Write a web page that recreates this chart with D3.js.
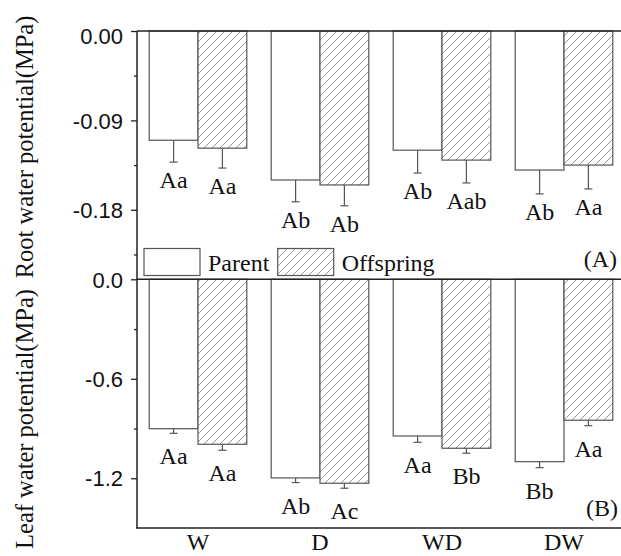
<!DOCTYPE html>
<html><head><meta charset="utf-8">
<script src="https://cdn.jsdelivr.net/npm/d3@7"></script>
<style>body{margin:0;background:#fff}svg{display:block}</style>
</head><body>
<script>
const categories = ["W", "D", "WD", "DW"];
const series = ["Parent", "Offspring"];
// Root water potential (MPa)
const rootParent = [-0.110, -0.150, -0.120, -0.140];
const rootOffspring = [-0.118, -0.155, -0.130, -0.135];
const rootParentErr = [0.022, 0.022, 0.023, 0.024];
const rootOffspringErr = [0.020, 0.021, 0.023, 0.024];
const rootParentLabels = ["Aa", "Ab", "Ab", "Ab"];
const rootOffspringLabels = ["Aa", "Ab", "Aab", "Aa"];
// Leaf water potential (MPa)
const leafParent = [-0.901, -1.198, -0.945, -1.100];
const leafOffspring = [-0.995, -1.230, -1.019, -0.850];
const leafParentErr = [0.028, 0.028, 0.038, 0.036];
const leafOffspringErr = [0.036, 0.030, 0.030, 0.033];
const leafParentLabels = ["Aa", "Ab", "Aa", "Bb"];
const leafOffspringLabels = ["Aa", "Ac", "Bb", "Aa"];
// Axis ticks
const rootTicks = [0, -0.09, -0.18];
const rootTickLabels = ["0.00", "-0.09", "-0.18"];
const rootMinor = [-0.045, -0.135, -0.225];
const rootDomain = [-0.25, 0];
const leafTicks = [0, -0.6, -1.2];
const leafTickLabels = ["0.0", "-0.6", "-1.2"];
const leafMinor = [-0.3, -0.9];
const leafDomain = [-1.5, 0];

const W = 621, H = 556;
const left = 137, right = 625, top1 = 31, mid = 279.3, bot = 528;
const serif = "'Liberation Serif','Times New Roman',serif";
const sans = "'Liberation Sans',Arial,sans-serif";
const lineCol = "#222";

const svg = d3.select("body").append("svg").attr("width", W).attr("height", H);
svg.append("rect").attr("width", W).attr("height", H).attr("fill", "#fff");

const defs = svg.append("defs");
const pat = defs.append("pattern").attr("id", "hatch").attr("patternUnits", "userSpaceOnUse")
  .attr("width", 8).attr("height", 8);
pat.append("rect").attr("width", 8).attr("height", 8).attr("fill", "#fff");
pat.append("path").attr("d", "M-2,2 L2,-2 M0,8 L8,0 M6,10 L10,6")
  .attr("stroke", "#999").attr("stroke-width", 1);

const x0 = d3.scaleBand().domain(categories).range([left, right]).paddingInner(0.2).paddingOuter(0.1);
const x1 = d3.scaleBand().domain(series).range([0, x0.bandwidth()]);

function panel(yTop, yBot, domain, ticks, tickLabels, minor, parentV, offV, parentE, offE, parentL, offL, labelOff, firstShift) {
  const y = d3.scaleLinear().domain(domain).range([yBot, yTop]);
  const g = svg.append("g");
  const data = [];
  categories.forEach((c, i) => {
    data.push({c, s: "Parent", v: parentV[i], e: parentE[i], l: parentL[i]});
    data.push({c, s: "Offspring", v: offV[i], e: offE[i], l: offL[i]});
  });
  g.selectAll("rect.bar").data(data).join("rect").attr("class", "bar")
    .attr("x", d => x0(d.c) + x1(d.s))
    .attr("y", y(0))
    .attr("width", x1.bandwidth())
    .attr("height", d => y(d.v) - y(0))
    .attr("fill", d => d.s === "Parent" ? "#fff" : "url(#hatch)")
    .attr("stroke", "#555").attr("stroke-width", 1.2);
  const cx = d => x0(d.c) + x1(d.s) + x1.bandwidth() / 2;
  g.selectAll("line.err").data(data).join("line").attr("class", "err")
    .attr("x1", cx).attr("x2", cx)
    .attr("y1", d => y(d.v)).attr("y2", d => y(d.v - d.e))
    .attr("stroke", "#555").attr("stroke-width", 1.2);
  g.selectAll("line.cap").data(data).join("line").attr("class", "cap")
    .attr("x1", d => cx(d) - 4).attr("x2", d => cx(d) + 4)
    .attr("y1", d => y(d.v - d.e)).attr("y2", d => y(d.v - d.e))
    .attr("stroke", "#555").attr("stroke-width", 1.2);
  g.selectAll("text.sig").data(data).join("text").attr("class", "sig")
    .attr("x", cx).attr("y", d => y(d.v - d.e) + labelOff)
    .attr("text-anchor", "middle").attr("font-family", serif).attr("font-size", 24)
    .attr("fill", "#111").text(d => d.l);
  const ax = d3.axisLeft(y).tickValues(ticks).tickSize(6).tickSizeOuter(0).tickPadding(8)
    .tickFormat((d, i) => tickLabels[i]);
  const ag = svg.append("g").attr("transform", `translate(${left},0)`).call(ax);
  ag.select(".domain").remove();
  ag.selectAll("line").attr("stroke", lineCol).attr("stroke-width", 1.3);
  ag.selectAll("text").attr("font-family", sans).attr("font-size", 22).attr("fill", "#111")
    .attr("dy", (d) => (d === 0 && firstShift) ? "0.55em" : "0.35em");
  const mg = svg.append("g").attr("transform", `translate(${left},0)`)
    .call(d3.axisLeft(y).tickValues(minor).tickSize(3).tickFormat(""));
  mg.select(".domain").remove();
  mg.selectAll("line").attr("stroke", lineCol).attr("stroke-width", 1.3);
  return y;
}

panel(top1, mid, rootDomain, rootTicks, rootTickLabels, rootMinor,
  rootParent, rootOffspring, rootParentErr, rootOffspringErr, rootParentLabels, rootOffspringLabels, 26, true);
panel(mid, bot, leafDomain, leafTicks, leafTickLabels, leafMinor,
  leafParent, leafOffspring, leafParentErr, leafOffspringErr, leafParentLabels, leafOffspringLabels, 31, false);

const frame = svg.append("g").attr("stroke", lineCol).attr("stroke-width", 1.5);
frame.append("line").attr("x1", left).attr("x2", W).attr("y1", top1).attr("y2", top1);
frame.append("line").attr("x1", left).attr("x2", W).attr("y1", mid).attr("y2", mid);
frame.append("line").attr("x1", left - 1).attr("x2", W).attr("y1", bot).attr("y2", bot);
frame.append("line").attr("x1", left).attr("x2", left).attr("y1", top1).attr("y2", bot);

const xa = svg.append("g").attr("transform", `translate(0,${bot})`)
  .call(d3.axisBottom(x0).tickSize(0).tickPadding(5));
xa.select(".domain").remove();
xa.selectAll("text").attr("font-family", serif).attr("font-size", 24).attr("fill", "#111");

svg.append("text").attr("transform", "translate(33,147) rotate(-90)")
  .attr("text-anchor", "middle").attr("font-family", serif).attr("font-size", 24.5).attr("fill", "#111")
  .text("Root water potential(MPa)");
svg.append("text").attr("transform", "translate(33,419) rotate(-90)")
  .attr("text-anchor", "middle").attr("font-family", serif).attr("font-size", 24.5).attr("fill", "#111")
  .text("Leaf water potential(MPa)");

svg.append("text").attr("x", 617).attr("y", 267).attr("text-anchor", "end")
  .attr("font-family", serif).attr("font-size", 24).attr("fill", "#111").text("(A)");
svg.append("text").attr("x", 618).attr("y", 516).attr("text-anchor", "end")
  .attr("font-family", serif).attr("font-size", 24).attr("fill", "#111").text("(B)");

const lg = svg.append("g");
const legX = [144, 277.7];
series.forEach((s, i) => {
  lg.append("rect").attr("x", legX[i]).attr("y", 248.5).attr("width", 56).attr("height", 27)
    .attr("fill", i === 0 ? "#fff" : "url(#hatch)").attr("stroke", "#555").attr("stroke-width", 1.2);
  lg.append("text").attr("x", legX[i] + 64).attr("y", 271).attr("font-family", serif)
    .attr("font-size", 24).attr("fill", "#111").text(s);
});
</script>
</body></html>
